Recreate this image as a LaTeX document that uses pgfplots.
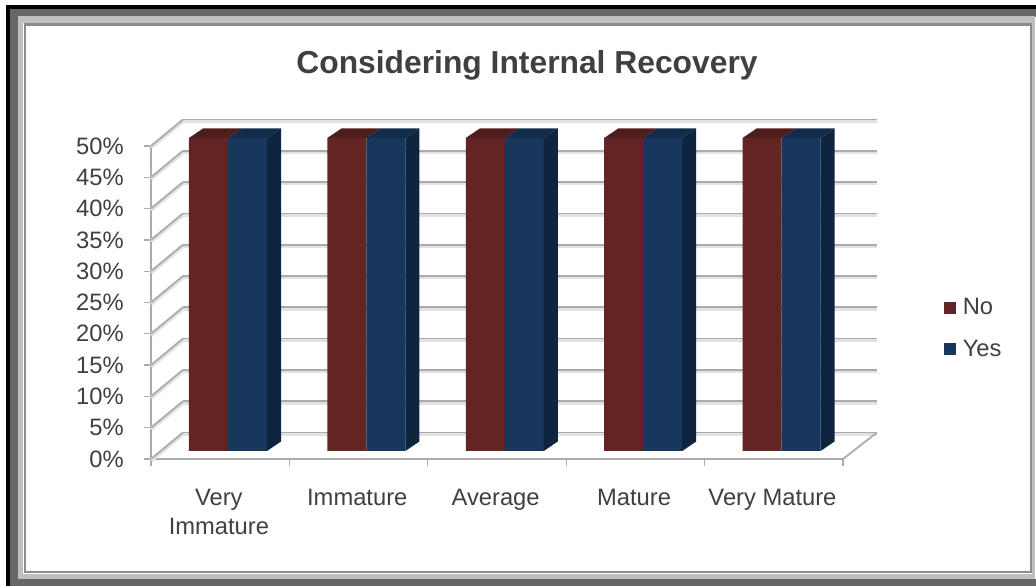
\documentclass[border=0pt]{standalone}
\usepackage{pgfplots}
\usepackage{fontspec}
\pgfplotsset{compat=1.18}
\setmainfont{Liberation Sans}
\definecolor{txt}{HTML}{404040}
\definecolor{gridcol}{HTML}{ABABAB}
\definecolor{gridsoft}{HTML}{E2E2E2}
\definecolor{nofront}{HTML}{632523}
\definecolor{notop}{HTML}{4F1D1B}
\definecolor{yesfront}{HTML}{17375E}
\definecolor{yestop}{HTML}{122C4B}
\definecolor{yesside}{HTML}{0F243E}
% 1 px of the reference = 0.75pt; category = 138.4 px, 5% = 31.3 px
% top and side faces of a bar, args: category, value
\newcommand\barfaces[2]{%
  \pgfmathsetmacro\xa{#1+0.2746}%
  \pgfmathsetmacro\xb{#1+0.5564}%
  \pgfmathsetmacro\xc{#1+0.8382}%
  \pgfmathsetmacro\xaa{\xa+0.1012}%
  \pgfmathsetmacro\xbb{\xb+0.1012}%
  \pgfmathsetmacro\xcc{\xc+0.1012}%
  \pgfmathsetmacro\yt{#2+1.28}%
  \pgfmathsetmacro\ytt{\yt+1.52}%
  \edef\tmp{%
    \noexpand\addplot[fill=notop,draw=none,forget plot] coordinates
      {(\xa,\yt) (\xb,\yt) (\xbb,\ytt) (\xaa,\ytt)} -- cycle;
    \noexpand\addplot[fill=yestop,draw=none,forget plot] coordinates
      {(\xb,\yt) (\xc,\yt) (\xcc,\ytt) (\xbb,\ytt)} -- cycle;
    \noexpand\addplot[fill=yesside,draw=none,forget plot] coordinates
      {(\xc,1.28) (\xc,\yt) (\xcc,\ytt) (\xcc,2.80)} -- cycle;
  }\tmp
}
\begin{document}
\begin{tikzpicture}
  % frame
  \fill[white] (0pt,0pt) rectangle (777pt,439.5pt);
  \fill[black] (4.5pt,0pt) rectangle (777pt,435.75pt);
  \fill[black!60] (7.5pt,0pt) rectangle (777pt,432.75pt);
  \fill[white] (775.9pt,5.6pt) rectangle (777pt,426.75pt);
  \fill[black!25] (13.5pt,5.6pt) rectangle (775.9pt,427.5pt);
  \fill[white] (17.25pt,9pt) rectangle (774pt,422.25pt);
  \fill[black!45] (18pt,9.75pt) rectangle (774pt,422.25pt);
  \fill[white] (19.5pt,11.25pt) rectangle (772.5pt,420pt);
  \begin{axis}[
    at={(113.25pt,95.25pt)}, anchor=origin,
    scale only axis, width=519pt, height=234.75pt,
    xmin=0, xmax=5, ymin=0, ymax=50,
    clip=false,
    axis x line*=bottom, axis y line*=left,
    axis line style={gridcol, line width=1.2pt},
    tick style={gridcol, line width=1pt},
    tick align=outside, major tick length=5pt,
    xtick={0,...,5}, xticklabels={},
    extra x ticks={0.5,1.5,2.5,3.5,4.5},
    extra x tick labels={{\begin{tabular}[t]{@{}c@{}}Very\\Immature\end{tabular}},Immature,Average,Mature,Very Mature},
    extra x tick style={major tick length=0pt,
      xticklabel style={text height=12pt, xshift=-1pt, yshift=-19pt}},
    ytick={0,5,...,50},
    yticklabel={\pgfmathprintnumber{\tick}\%},
    /pgf/number format/assume math mode=true,
    ticklabel style={font=\fontsize{17.8pt}{21.75pt}\selectfont, text=txt},
    yticklabel style={xshift=-12pt},
    legend style={at={(1.140,0.531)}, anchor=north west, draw=none, fill=none,
      font=\fontsize{17.8pt}{20pt}\selectfont, text=txt, row sep=13.5pt},
    legend cell align=left,
    legend image code/.code={\fill[#1] (0pt,-4.5pt) rectangle (9pt,4.5pt); \path (12pt,0pt);},
    title={\bfseries Considering Internal Recovery},
    title style={at={(0.5,1)}, font=\fontsize{23.85pt}{26pt}\selectfont, text=txt,
      anchor=center, xshift=22.5pt, yshift=54.75pt},
  ]
    \addlegendimage{fill=nofront, draw=none}
    \addlegendentry{No}
    \addlegendimage{fill=yesfront, draw=none}
    \addlegendentry{Yes}

    % back wall and side wall lines (soft shadow first)
    \pgfplotsinvokeforeach{0,5,...,50}{
      \addplot[gridsoft, line width=3pt, forget plot, shift={(0pt,-1pt)}]
        coordinates {(0,#1) (0.2312,#1+4.23)};
      \addplot[gridsoft, line width=3pt, forget plot, shift={(0pt,-1pt)}]
        coordinates {(0.2312,#1+4.23) (5.2457,#1+4.23)};
    }
    \pgfplotsinvokeforeach{0,5,...,50}{
      \addplot[gridcol, line width=1.3pt, forget plot]
        coordinates {(0,#1) (0.2312,#1+4.23)};
      \addplot[gridcol, line width=1.3pt, forget plot]
        coordinates {(0.2312,#1+4.23) (5.2457,#1+4.23)};
    }
    \addplot[gridcol, line width=1.3pt, forget plot]
      coordinates {(5,0) (5.2457,4.23)};

    % front faces
    \addplot[ybar, bar width=29.3pt, bar shift=-14.625pt, shift={(5.85pt,6pt)},
      fill=nofront, draw=none, forget plot]
      coordinates {(0.5,50) (1.5,50) (2.5,50) (3.5,50) (4.5,50)};
    \addplot[ybar, bar width=29.3pt, bar shift=14.625pt, shift={(5.85pt,6pt)},
      fill=yesfront, draw=none, forget plot]
      coordinates {(0.5,50) (1.5,50) (2.5,50) (3.5,50) (4.5,50)};

    \barfaces{0}{50}
    \barfaces{1}{50}
    \barfaces{2}{50}
    \barfaces{3}{50}
    \barfaces{4}{50}
  \end{axis}
\end{tikzpicture}
\end{document}
